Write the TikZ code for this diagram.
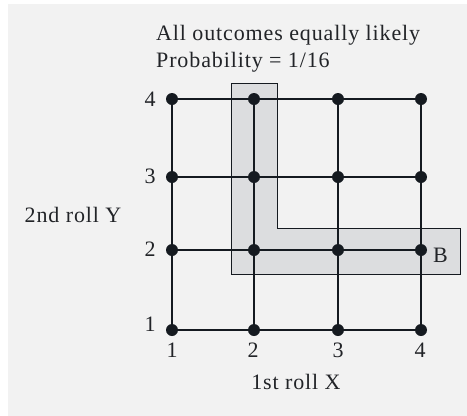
\documentclass[tikz,border=0pt]{standalone}
\usepackage{fontspec}
\setmainfont{Liberation Serif}[LetterSpace=4]
\definecolor{bg}{HTML}{F2F2F2}
\definecolor{hl}{HTML}{DCDDDF}
\definecolor{ink}{HTML}{151A20}
\definecolor{txt}{HTML}{222428}
\begin{document}
\begin{tikzpicture}[x=1pt,y=-1pt,
  dot/.style={circle,fill=ink,inner sep=0pt,minimum width=11pt,minimum height=12pt},
  gridline/.style={draw=ink,line width=2pt},
  lbl/.style={text=txt,font=\fontsize{22}{26}\selectfont,inner sep=0pt,anchor=base}]
\useasboundingbox (0,0) rectangle (467,416);
\fill[white] (0,0) rectangle (467,416);
\fill[bg] (8,4) rectangle (467,416);
% highlight region B
\draw[fill=hl,draw=ink,line width=0.9pt] (231,83) -- (277,83) -- (277,228) -- (460,228) -- (460,274) -- (231,274) -- cycle;
% grid coordinates
\foreach \i/\x in {1/172,2/254,3/338,4/421}{
  \foreach \j/\y in {1/330,2/250,3/177,4/99}{
    \coordinate (c\i\j) at (\x,\y);
  }
}
\foreach \j in {1,2,3,4}{\draw[gridline] (c1\j) -- (c4\j);}
\foreach \i in {1,2,3,4}{\draw[gridline] (c\i1) -- (c\i4);}
\foreach \i in {1,2,3,4}{
  \foreach \j in {1,2,3,4}{
    \node[dot] (p\i\j) at (c\i\j) {};
  }
}
% axis numbers
\foreach \j/\y in {1/331,2/256,3/183,4/106}{\node[lbl] (ly\j) at (150,\y) {\j};}
\foreach \i/\x in {1/172,2/253,3/338,4/420}{\node[lbl] (lx\i) at (\x,357) {\i};}
\node[lbl,anchor=base west] (B) at (433,262) {B};
\node[lbl] (ylab) at (73,222) {2nd roll Y};
\node[lbl] (xlab) at (296,389) {1st roll X};
\node[lbl,anchor=base west] (t1) at (156,40) {All outcomes equally likely};
\node[lbl,anchor=base west] (t2) at (156,67) {Probability = 1/16};
\end{tikzpicture}
\end{document}
